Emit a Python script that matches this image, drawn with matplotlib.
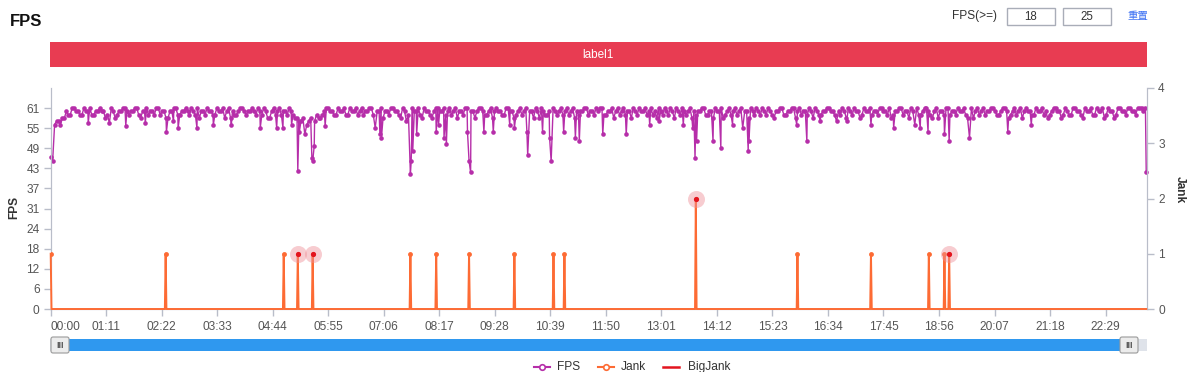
import matplotlib
matplotlib.use("Agg")
import matplotlib.pyplot as plt
from matplotlib.patches import Rectangle, FancyBboxPatch
import numpy as np

plt.rcParams["font.family"] = ["Liberation Sans", "Noto Sans CJK SC", "DejaVu Sans"]

# FPS sampled every 5 s (t = 0, 5, ..., 1400)
fps_step = 5
fps_base = [
    46, 56, 57, 58, 60, 59, 61, 60, 59, 60, 61, 59, 60, 60, 58, 61, 60, 59, 60, 61,
    59, 60, 61, 58, 60, 59, 60, 61, 59, 60, 58, 60, 61, 59, 60, 60, 61, 59, 58, 60,
    61, 60, 59, 60, 61, 60, 58, 59, 60, 61, 59, 60, 60, 61, 59, 60, 58, 61, 60, 59,
    60, 61, 59, 58, 57, 58, 57, 58, 59, 58, 60, 61, 60, 59, 60, 61, 59, 60, 61, 60,
    59, 60, 61, 59, 60, 58, 60, 61, 60, 59, 61, 60, 59, 60, 61, 58, 60, 59, 60, 61,
    60, 59, 61, 60, 58, 60, 61, 59, 60, 60, 61, 59, 60, 58, 61, 60, 59, 61, 60, 59,
    61, 60, 59, 60, 61, 58, 60, 59, 61, 60, 60, 59, 61, 60, 58, 59, 60, 61, 60, 59,
    60, 61, 59, 60, 58, 61, 60, 59, 60, 61, 59, 60, 61, 60, 59, 58, 60, 61, 59, 60,
    61, 59, 60, 60, 58, 59, 60, 61, 59, 60, 61, 60, 58, 60, 59, 61, 60, 59, 60, 61,
    59, 60, 61, 59, 60, 58, 60, 61, 59, 60, 61, 60, 59, 60, 61, 58, 60, 59, 60, 61,
    60, 61, 59, 60, 61, 59, 60, 58, 61, 60, 59, 60, 61, 60, 59, 58, 60, 61, 59, 60,
    61, 60, 59, 60, 61, 59, 60, 58, 60, 61, 59, 60, 61, 60, 59, 60, 58, 61, 60, 59,
    60, 61, 59, 60, 61, 58, 60, 59, 61, 60, 60, 59, 61, 60, 59, 58, 60, 61, 60, 59,
    60, 59, 61, 60, 58, 60, 61, 59, 60, 61, 59, 60, 58, 61, 60, 59, 61, 60, 61, 61,
    61,
]
# in-between samples (t = 2.5, 7.5, ..., 1397.5)
fps_mid = [
    45, 57, 56, 58, 59, 61, 60, 59, 61, 60, 59, 60, 61, 60, 59, 61, 58, 60, 61, 60,
    60, 61, 59, 60, 61, 60, 59, 61, 60, 58, 60, 61, 59, 60, 61, 59, 60, 61, 60, 59,
    60, 59, 61, 60, 58, 61, 60, 59, 61, 60, 60, 61, 59, 60, 61, 58, 60, 59, 61, 60,
    59, 60, 58, 57, 58, 56, 58, 57, 58, 59, 61, 60, 59, 61, 60, 59, 61, 60, 59, 61,
    60, 61, 59, 60, 61, 60, 59, 61, 60, 58, 60, 59, 61, 60, 59, 61, 60, 58, 61, 60,
    61, 60, 59, 61, 60, 59, 61, 60, 58, 61, 60, 59, 61, 60, 60, 59, 61, 60, 58, 60,
    59, 61, 60, 58, 60, 61, 59, 60, 61, 59, 61, 60, 59, 61, 60, 60, 61, 59, 60, 61,
    61, 59, 60, 61, 60, 59, 61, 60, 58, 60, 61, 60, 59, 61, 60, 61, 59, 60, 61, 58,
    60, 61, 59, 61, 60, 60, 61, 59, 60, 58, 60, 61, 59, 61, 60, 59, 61, 60, 58, 60,
    61, 59, 60, 61, 59, 60, 61, 59, 60, 61, 58, 61, 60, 59, 60, 61, 59, 60, 61, 60,
    59, 60, 61, 58, 60, 61, 60, 59, 60, 61, 60, 59, 61, 60, 61, 59, 60, 61, 60, 58,
    60, 61, 59, 61, 60, 58, 61, 60, 59, 61, 60, 59, 60, 61, 58, 61, 60, 59, 61, 60,
    61, 60, 59, 61, 60, 59, 61, 60, 58, 61, 60, 59, 60, 61, 60, 59, 61, 60, 58, 61,
    59, 61, 60, 59, 61, 60, 59, 61, 60, 58, 61, 60, 59, 61, 60, 61, 60, 59, 61, 60,
]

# FPS drops (second, value)
dip_t = [48, 75, 96, 121, 148, 157, 163, 187, 208, 231, 268, 289, 297, 308, 316,
         318, 325, 334, 335, 337, 351, 415, 421, 423, 455, 460, 461, 463, 468, 493,
         496, 503, 506, 533, 535, 537, 554, 566, 587, 593, 609, 610, 629, 638, 640,
         656, 671, 676, 706, 736, 766, 778, 809, 821, 824, 826, 847, 857, 872, 885,
         892, 893, 954, 967, 984, 1005, 1018, 1049, 1078, 1105, 1112, 1122, 1143,
         1149, 1175, 1224, 1254, 1401]
dip_fps = [56.5, 56.5, 55.7, 56.5, 53.8, 57, 55, 55, 56, 56, 55, 55, 55, 56, 42,
           53.8, 53, 45.8, 44.8, 49.5, 55.5, 55, 53, 52, 57, 41, 44.8, 48, 53, 53.8,
           56, 52, 50, 53.8, 45, 41.5, 53.8, 53.8, 56, 55, 53.8, 46.7, 53.8, 52, 44.8,
           53.8, 52, 51, 53, 53, 56, 57, 56, 55, 45.8, 51, 51, 49, 56, 55,
           48, 51, 56, 51, 57, 57, 57, 56, 55, 56, 55, 53.8, 53,
           51, 52, 53.8, 56, 41.5]

# Jank events (second, count)
jank_t = [0, 147, 298, 316, 335, 460, 493, 535, 593, 643, 657, 825, 955, 1049, 1123, 1143, 1149]
jank_v = [1, 1, 1, 1, 1, 1, 1, 1, 1, 1, 1, 2, 1, 1, 1, 1, 1]
big_t = [316, 335, 825, 1149]
big_v = [1, 1, 2, 1]
t_end = 1401

fps_ticks = [0, 6.1, 12.2, 18.3, 24.4, 30.5, 36.6, 42.7, 48.8, 54.9, 61.0]
fps_tick_labels = ["0", "6", "12", "18", "24", "31", "37", "43", "49", "55", "61"]
jank_ticks = [0, 1, 2, 3, 4]
x_tick_labels = ["00:00", "01:11", "02:22", "03:33", "04:44", "05:55", "07:06",
                 "08:17", "09:28", "10:39", "11:50", "13:01", "14:12", "15:23",
                 "16:34", "17:45", "18:56", "20:07", "21:18", "22:29"]
x_tick_step = 71

fps_col = "#b62ea9"
jank_col = "#fd6b34"
big_col = "#e3141e"
axis_col = "#b9bdc9"
label_col = "#555555"

W, H = 1200, 372
fig = plt.figure(figsize=(W / 100, H / 100), dpi=100)

# merge baseline samples and drops
fps_pts = {i * fps_step: v for i, v in enumerate(fps_base)}
for i, v in enumerate(fps_mid):
    fps_pts[i * fps_step + fps_step / 2] = v
for t, v in zip(dip_t, dip_fps):
    fps_pts[t] = v
fps_x = sorted(fps_pts)
fps_y = [fps_pts[t] for t in fps_x]

jank_x = np.arange(t_end + 1)
jank_y = np.zeros(t_end + 1)
jank_y[jank_t] = jank_v

ax = fig.add_axes([50.7 / W, 1 - 309 / H, (1147 - 50.7) / W, (309 - 88) / H])
ax2 = ax.twinx()

ax.plot(fps_x, fps_y, color=fps_col, lw=1.0, marker="o", ms=3.3, mew=0,
        clip_on=False, zorder=3)
ax.set_xlim(0, t_end + 1)
ax.set_ylim(0, 67.1)
ax.set_yticks(fps_ticks)
ax.set_yticklabels(fps_tick_labels)
ax.set_xticks([i * x_tick_step for i in range(len(x_tick_labels))])
ax.set_xticklabels(x_tick_labels)
ax.get_xticklabels()[0].set_ha("left")

ax2.plot(jank_x, jank_y, color=jank_col, lw=1.4, clip_on=False, zorder=3)
nz = jank_y > 0
ax2.plot(jank_x[nz], jank_y[nz], "o", color=jank_col, ms=3.5, mew=0, zorder=4)
ax2.scatter(big_t, big_v, s=150, color="#ef8f98", alpha=0.45, lw=0, zorder=5)
ax2.scatter(big_t, big_v, s=14, color=big_col, lw=0, zorder=6)
ax2.set_ylim(0, 4)
ax2.set_yticks(jank_ticks)

for a in (ax, ax2):
    a.spines["top"].set_visible(False)
    for s in ("left", "right", "bottom"):
        a.spines[s].set_color(axis_col)
    a.tick_params(length=5, width=1, color=axis_col, labelcolor=label_col,
                  labelsize=8.6, pad=3)
ax.tick_params(axis="x", pad=4)

fig.text(14 / W, 1 - 207 / H, "FPS", rotation=90, ha="center", va="center",
         fontsize=8.6, fontweight="bold", color="#333333")
fig.text(1180 / W, 1 - 190 / H, "Jank", rotation=-90, ha="center", va="center",
         fontsize=8.6, fontweight="bold", color="#333333")

# overlay in pixel coordinates for the widgets
ov = fig.add_axes([0, 0, 1, 1])
ov.set_xlim(0, W)
ov.set_ylim(H, 0)
ov.axis("off")

ov.text(10, 21, "FPS", fontsize=12, fontweight="bold", color="#111111",
        ha="left", va="center")
ov.add_patch(Rectangle((50, 42), 1097, 25, color="#e83c52", lw=0))
ov.text(598, 54.5, "label1", fontsize=8.5, color="white", ha="center", va="center")

ov.text(997, 16.5, "FPS(>=)", fontsize=8.6, color="#333333", ha="right", va="center")
for x0, txt in ((1006.5, "18"), (1062.5, "25")):
    ov.add_patch(Rectangle((x0, 8), 48, 17, facecolor="white",
                           edgecolor="#a9adb8", lw=1))
    ov.text(x0 + 24, 16.8, txt, fontsize=8.3, color="#333333",
            ha="center", va="center")
ov.text(1137.5, 16.5, "重置", fontsize=7.5, color="#3a6ff3", ha="center",
        va="center", family=["Noto Sans CJK SC", "DejaVu Sans"])

# data zoom slider
ov.add_patch(Rectangle((50, 339), 1097, 12, color="#dfe3ea", lw=0))
ov.add_patch(Rectangle((58, 339), 1072, 12, color="#2f98ef", lw=0))
for hx in (51, 1120):
    ov.add_patch(FancyBboxPatch((hx, 337), 18, 16,
                                boxstyle="round,pad=0,rounding_size=2",
                                facecolor="#ececec", edgecolor="#9a9a9a", lw=0.8))
    ov.text(hx + 9, 345.5, "III", fontsize=6.5, color="#555555",
            ha="center", va="center", fontweight="bold")

# legend
ly = 367
ov.plot([534, 550], [ly, ly], color=fps_col, lw=1.5)
ov.plot([542], [ly], "o", ms=4, mfc="white", mec=fps_col, mew=1.2)
ov.text(557, ly, "FPS", fontsize=8.6, color="#333333", ha="left", va="center")
ov.plot([598, 614], [ly, ly], color=jank_col, lw=1.5)
ov.plot([606], [ly], "o", ms=4, mfc="white", mec=jank_col, mew=1.2)
ov.text(621, ly, "Jank", fontsize=8.6, color="#333333", ha="left", va="center")
ov.plot([663, 679], [ly, ly], color=big_col, lw=1.8)
ov.text(688, ly, "BigJank", fontsize=8.6, color="#333333", ha="left", va="center")

fig.savefig("out.png", dpi=100)
